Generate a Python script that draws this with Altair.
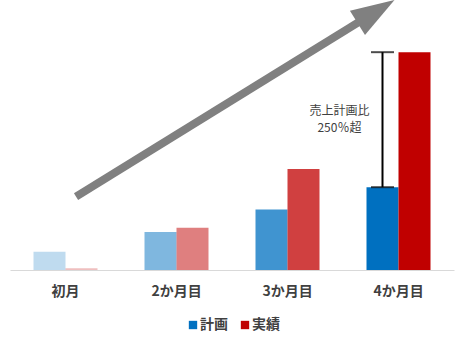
import altair as alt
import pandas as pd

FONT = "Noto Sans CJK JP"

months = ["初月", "2か月目", "3か月目", "4か月目"]
series = ["計画", "実績"]
plan = [22, 46, 73, 100]
actual = [2, 51, 122, 263]
shade = [0.25, 0.5, 0.75, 1.0]

# annotation values (x in category units 0..4, y in value units)
arrow_x = [0.595, 3.167]
arrow_y = [88.6, 301.3]
head_x = [3.297]
head_y = [312.2]
note_x = [2.968, 2.968]
note_y = [192.4, 171.3]
note_text = ["売上計画比", "250％超"]
bracket_lo = plan[3]
bracket_hi = actual[3]

Y_MAX = 326

rows = []
for m, p, a in zip(months, plan, actual):
    rows.append({"month": m, "series": "計画", "value": p})
    rows.append({"month": m, "series": "実績", "value": a})
bars_df = pd.DataFrame(rows)

yscale = alt.Scale(domain=[0, Y_MAX], nice=False, zero=True)
xband = alt.X(
    "month:N",
    sort=months,
    scale=alt.Scale(domain=months, paddingInner=0.4234, paddingOuter=0.2117),
    axis=alt.Axis(
        title=None, labelAngle=0, ticks=False, labelPadding=14,
        labelFont=FONT, labelFontSize=14, labelFontWeight="bold",
        labelColor="#404040", domainColor="#D9D9D9", domainWidth=1,
        grid=False,
    ),
)
xoff = alt.XOffset("series:N", sort=series,
                   scale=alt.Scale(domain=series, paddingInner=0, paddingOuter=0))

bars = alt.Chart(bars_df).mark_bar().encode(
    x=xband,
    xOffset=xoff,
    y=alt.Y("value:Q", scale=yscale, axis=None),
    color=alt.Color(
        "series:N",
        scale=alt.Scale(domain=series, range=["#0070C0", "#C00000"]),
        legend=alt.Legend(
            orient="none", legendX=176, legendY=318,
            title=None, symbolType="square", symbolSize=70,
            symbolStrokeWidth=0, symbolOpacity=1, labelFont=FONT,
            labelFontSize=14, labelFontWeight="bold", labelColor="#404040",
            columnPadding=10, labelOffset=0, direction="horizontal",
        ),
    ),
    opacity=alt.Opacity("month:N", sort=months,
                        scale=alt.Scale(type="ordinal", domain=months, range=shade),
                        legend=None),
)

br_df = pd.DataFrame({"month": [months[3]], "series": ["計画"],
                      "lo": [bracket_lo], "hi": [bracket_hi]})
rule = alt.Chart(br_df).mark_rule(color="black", strokeWidth=2).encode(
    x=alt.X("month:N", sort=months),
    xOffset=alt.XOffset("series:N", sort=series),
    y=alt.Y("lo:Q", scale=yscale, axis=None),
    y2="hi:Q",
)
cap_df = pd.DataFrame({"month": [months[3]] * 2, "series": ["計画"] * 2,
                       "v": [bracket_lo, bracket_hi]})
caps = alt.Chart(cap_df).mark_tick(color="black", thickness=2, size=23).encode(
    x=alt.X("month:N", sort=months),
    xOffset=alt.XOffset("series:N", sort=series),
    y=alt.Y("v:Q", scale=yscale, axis=None),
)

base_layer = alt.layer(bars, rule, caps)

xq = alt.Scale(domain=[0, 4], nice=False, zero=False)

arrow_df = pd.DataFrame({"x": arrow_x, "y": arrow_y})
shaft = alt.Chart(arrow_df).mark_line(color="#808080", strokeWidth=8,
                                       strokeCap="butt").encode(
    x=alt.X("x:Q", scale=xq, axis=None),
    y=alt.Y("y:Q", scale=yscale, axis=None),
)
head_df = pd.DataFrame({"x": head_x, "y": head_y})
head = alt.Chart(head_df).mark_point(
    shape="M0,-1L0.66,1L-0.66,1Z", size=1892, angle=58.3,
    filled=True, color="#808080", opacity=1, strokeWidth=0,
).encode(
    x=alt.X("x:Q", scale=xq, axis=None),
    y=alt.Y("y:Q", scale=yscale, axis=None),
)
note_df = pd.DataFrame({"x": note_x, "y": note_y, "t": note_text})
note = alt.Chart(note_df).mark_text(
    font=FONT, fontSize=12, color="#404040", align="center", baseline="middle",
).encode(
    x=alt.X("x:Q", scale=xq, axis=None),
    y=alt.Y("y:Q", scale=yscale, axis=None),
    text="t:N",
)
anno_layer = alt.layer(shaft, head, note)

chart = alt.layer(base_layer, anno_layer).resolve_scale(
    x="independent"
).properties(
    width=444, height=270,
    padding={"left": 10, "top": 0, "right": 7, "bottom": 5},
    background="white",
).configure_view(stroke=None)

chart.save("out.html", embed_options={"renderer": "svg", "actions": False})
